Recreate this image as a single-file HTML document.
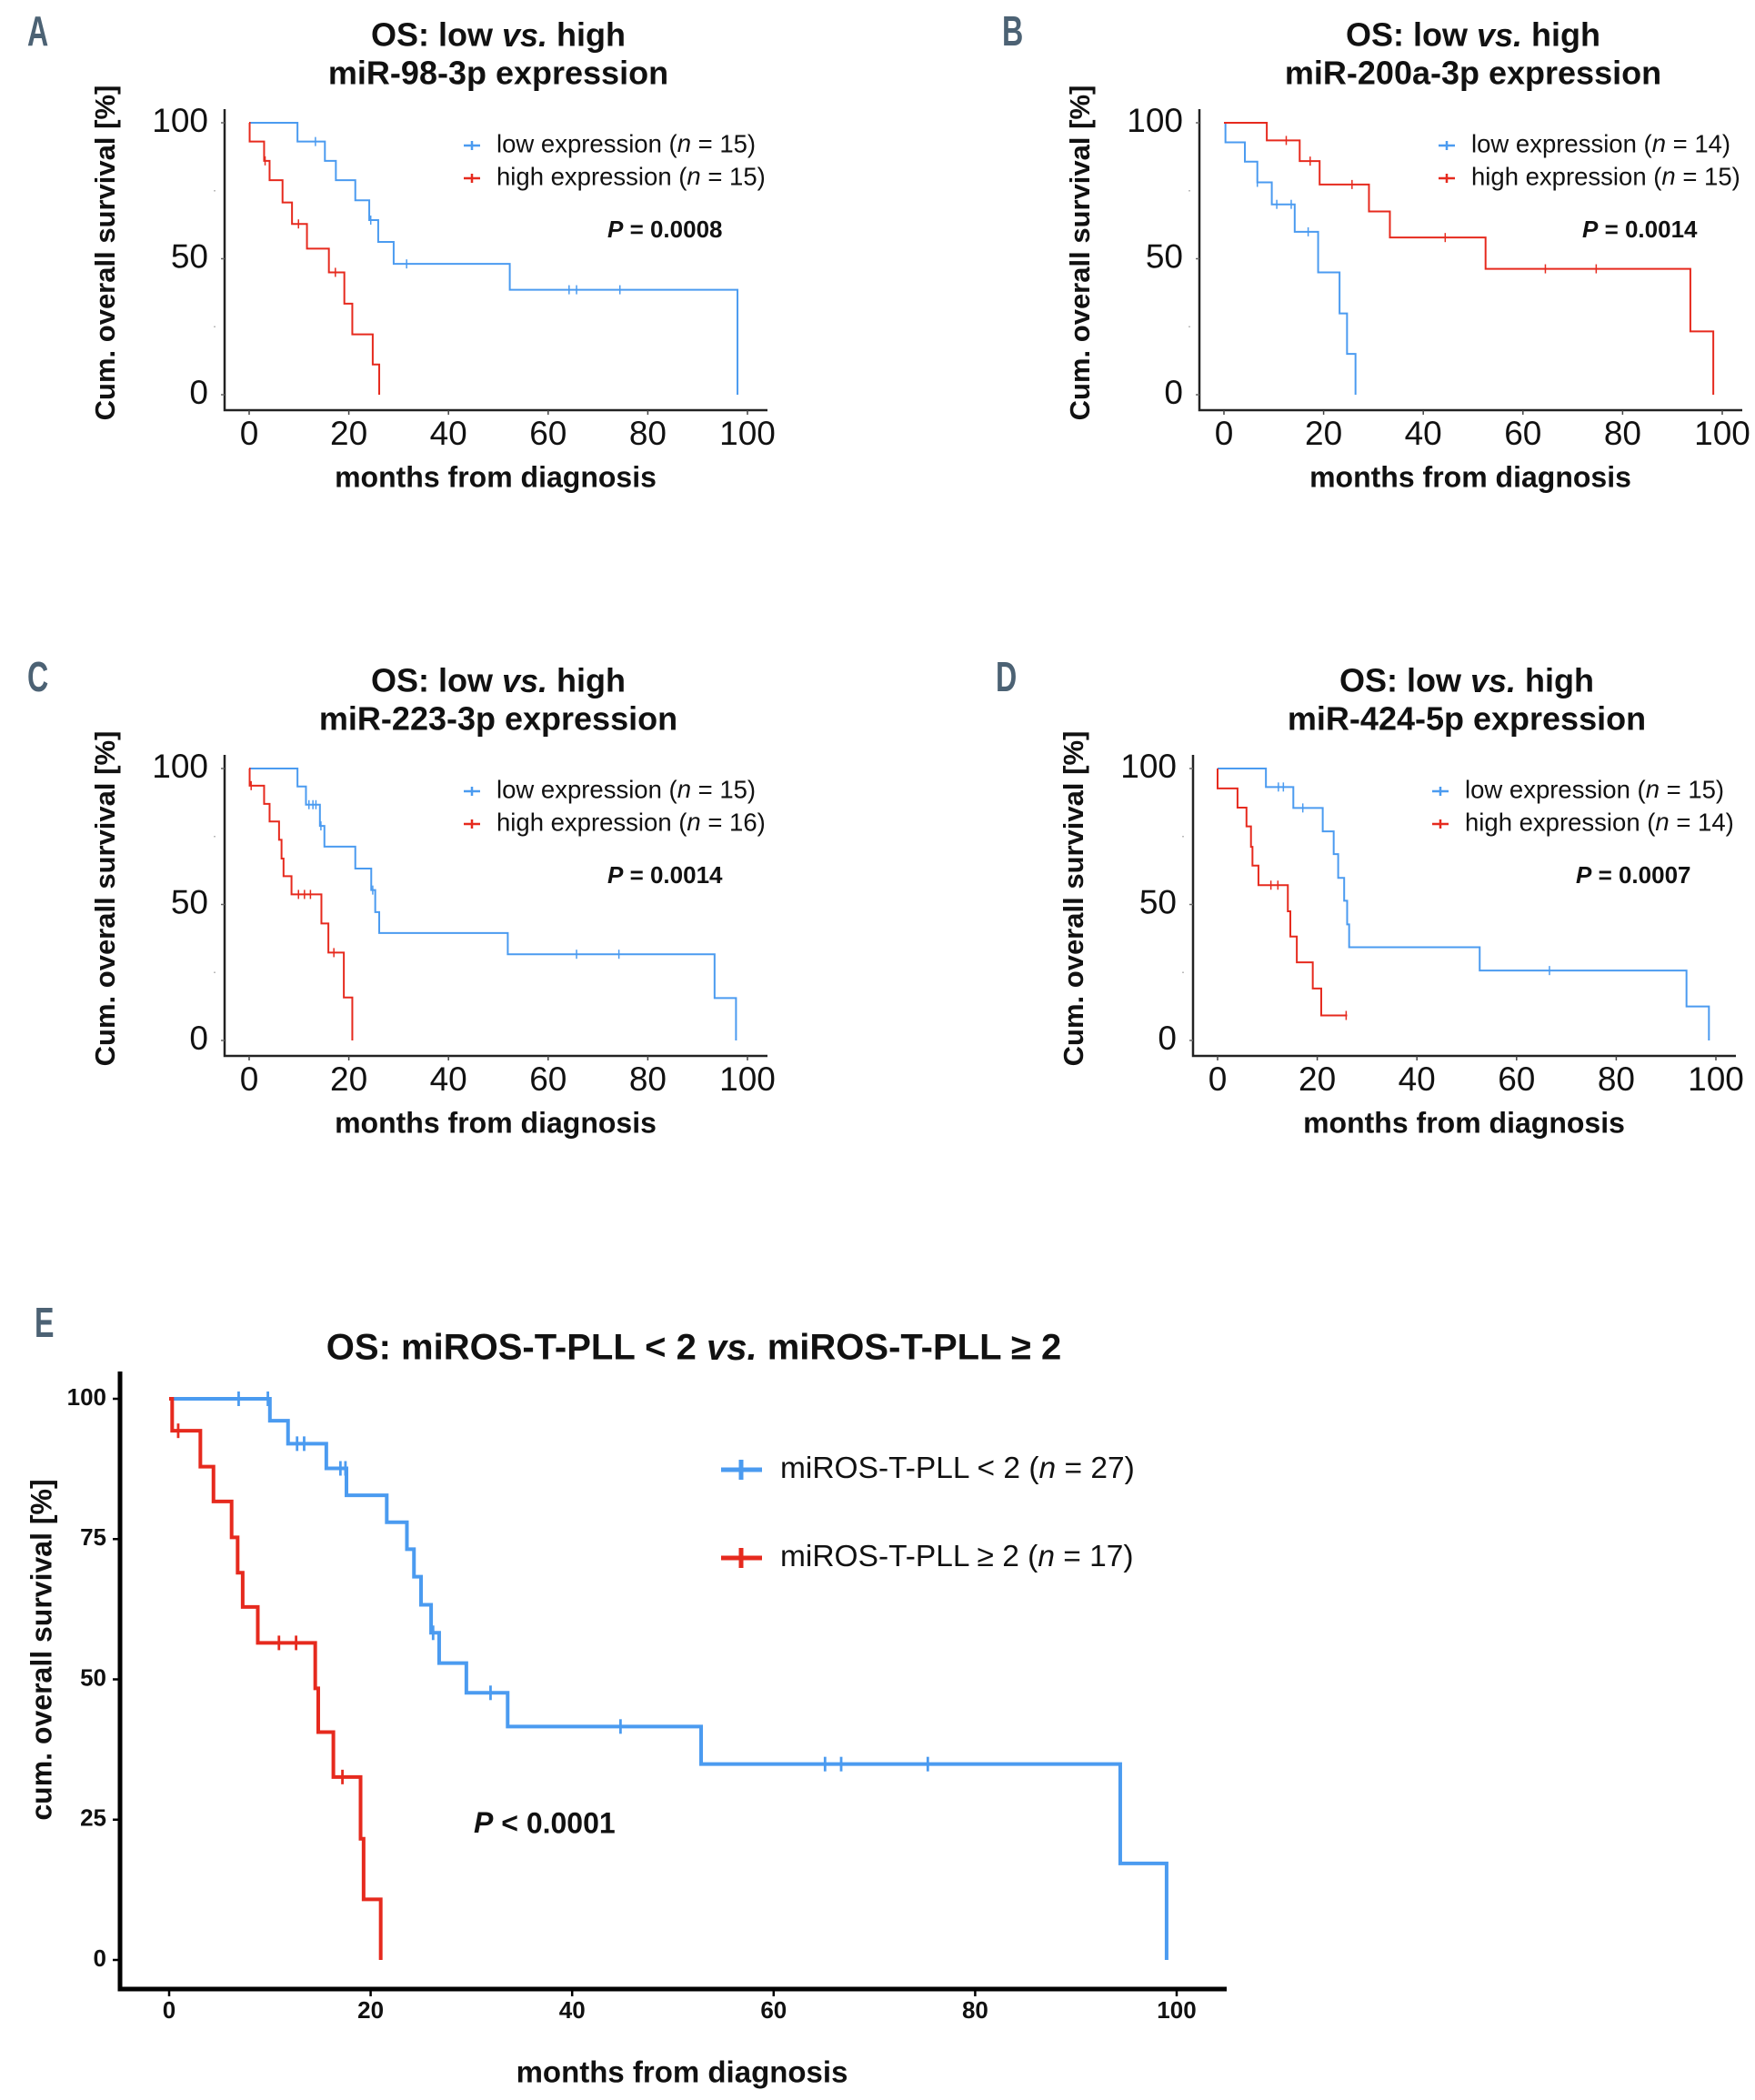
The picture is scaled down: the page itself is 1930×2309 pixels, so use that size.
<!DOCTYPE html>
<html><head><meta charset="utf-8">
<style>
html,body{margin:0;padding:0;background:#fff;}
svg{display:block;font-family:"Liberation Sans",Arial,sans-serif;}
</style></head>
<body>
<svg id="fig" width="1930" height="2309" viewBox="0 0 1930 2309" xmlns="http://www.w3.org/2000/svg"></svg>
<script>
// ---------------- DATA (months, survival %) ----------------
// Panel A: miR-98-3p
const aLowT = [0, 9.7, 15.2, 17.4, 21.3, 24.1, 25.9, 29, 52.3, 98];
const aLowS = [100, 93.1, 86, 78.9, 71.5, 64.2, 56.2, 48.1, 38.6, 0];
const aLowC = [13.3, 24.4, 31.6, 64.2, 65.7, 74.4];
const aHighT = [0, 0.1, 3, 4.1, 6.7, 8.6, 11.6, 16, 19.1, 20.7, 24.8, 26.1];
const aHighS = [100, 93.1, 86, 78.9, 70.7, 62.8, 53.7, 45, 33.5, 22.2, 11.1, 0];
const aHighC = [3.2, 9.9, 17.3];
// Panel B: miR-200a-3p
const bLowT = [0, 0.3, 4.2, 6.7, 9.6, 14.2, 18.9, 23.2, 24.7, 26.4];
const bLowS = [100, 92.8, 85.7, 78.1, 70, 59.9, 45, 29.9, 15, 0];
const bLowC = [6.7, 10.6, 13.5, 16.9];
const bHighT = [0, 8.6, 15.2, 19.2, 29.1, 33.3, 52.5, 93.6, 98.2];
const bHighS = [100, 93.5, 85.9, 77.3, 67.4, 57.8, 46.3, 23.3, 0];
const bHighC = [12.5, 17.3, 25.7, 44.4, 64.5, 74.7];
// Panel C: miR-223-3p
const cLowT = [0, 9.7, 11.4, 14.2, 15.1, 21.3, 24.5, 25.3, 26.1, 51.9, 93.4, 97.7];
const cLowS = [100, 93.4, 86.7, 78.9, 71.3, 63.2, 55.3, 47.2, 39.5, 31.7, 15.6, 0];
const cLowC = [12, 12.8, 13.4, 14.4, 24.8, 65.7, 74.2];
const cHighT = [0, 0.1, 3, 4.1, 6, 6.5, 6.9, 8.5, 14.5, 15.9, 19, 20.7];
const cHighS = [100, 93.7, 87, 80.5, 73.8, 66.9, 60.4, 53.7, 43, 32.3, 15.8, 0];
const cHighC = [0.4, 9.9, 11.1, 12.3, 17];
// Panel D: miR-424-5p
const dLowT = [0, 9.7, 15.2, 21.1, 23.3, 24.2, 25.4, 26, 26.4, 52.6, 94.1, 98.6];
const dLowS = [100, 93.2, 85.5, 76.9, 68.5, 59.8, 51.4, 42.7, 34.3, 25.7, 12.5, 0];
const dLowC = [12.2, 13.2, 17.1, 66.6];
const dHighT = [0, 0, 4, 5.8, 6.7, 7, 8.2, 14.1, 14.6, 15.9, 19.1, 20.8];
const dHighS = [100, 92.7, 85.6, 78.7, 71.2, 64.3, 57.1, 47.5, 38.2, 28.7, 19.1, 9.2];
const dHighEnd = 26;
const dHighC = [10.7, 12.1, 25.8];
// Panel E: miROS-T-PLL
const eLowT = [0, 10, 11.8, 15.6, 17.6, 21.6, 23.6, 24.3, 25, 26, 26.8, 29.5, 33.6, 52.8, 94.4, 99];
const eLowS = [100, 96.1, 92, 87.6, 82.8, 78, 73.2, 68.3, 63.3, 58.3, 52.9, 47.6, 41.6, 34.9, 17.2, 0];
const eLowC = [6.9, 9.8, 12.7, 13.4, 17, 17.5, 26.2, 31.9, 44.8, 65.1, 66.7, 75.3];
const eHighT = [0, 0.3, 3.1, 4.4, 6.2, 6.8, 7.3, 8.8, 14.5, 14.8, 16.3, 19, 19.3, 21];
const eHighS = [100, 94.3, 87.9, 81.7, 75.3, 69, 62.9, 56.5, 48.4, 40.6, 32.6, 21.6, 10.8, 0];
const eHighC = [0.9, 10.9, 12.6, 17.2];
// tick labels
const xTicks = [0, 20, 40, 60, 80, 100];
const yTicksSmall = [0, 50, 100];
const yMinorSmall = [25, 75];
const yTicksE = [0, 25, 50, 75, 100];

// ---------------- DRAWING ----------------
const NS = "http://www.w3.org/2000/svg";
const svg = document.getElementById('fig');
const BLUE = "#4b9bf0", RED = "#e62a1e";
function mk(tag, attrs, parent){
  const e = document.createElementNS(NS, tag);
  for (const k in attrs) e.setAttribute(k, attrs[k]);
  (parent||svg).appendChild(e);
  return e;
}
function txt(parent, x, y, str, size, opts){
  opts = opts||{};
  const t = mk('text', {x:x, y:y, 'font-size':size, 'font-weight':opts.bold?'bold':'normal',
    'text-anchor':opts.anchor||'start', 'dominant-baseline':'middle', fill:opts.fill||'#111'}, parent);
  if (opts.html) t.innerHTML = str; else t.textContent = str;
  if (opts.transform) t.setAttribute('transform', opts.transform);
  return t;
}
function survAt(T, S, t){
  let s = S[0];
  for (let i=0;i<T.length;i++){ if (T[i] <= t) s = S[i]; }
  return s;
}
function drawCurve(g, T, S, C, end, sx, sy, color, lw, cs, name){
  let d = "M" + sx(T[0]) + "," + sy(S[0]);
  for (let i=1;i<T.length;i++){
    d += " H" + sx(T[i]) + " V" + sy(S[i]);
  }
  if (end !== null) d += " H" + sx(end);
  const p = mk('path', {d:d, fill:'none', stroke:color, 'stroke-width':lw, 'stroke-linejoin':'miter'}, g);
  
  
  C.forEach(function(c){
    const y = sy(survAt(T, S, c)), x = sx(c);
    const m = mk('path', {d:"M"+x+","+(y-cs)+" V"+(y+cs), stroke:color, 'stroke-width':Math.max(1.5, lw*0.7)}, g);
    
    
  });
}

function smallPanel(cfg){
  const g = mk('g', {transform:'translate(' + cfg.dx + ',' + cfg.dy + ')'});
  
  
  const x0 = 274, x1 = 822, y100 = 135, y0 = 434;
  const sx = v => x0 + (x1 - x0) * v / 100;
  const sy = v => y0 - (y0 - y100) * v / 100;
  const L = txt(g, 30, 38, cfg.letter, 46, {bold:true, fill:'#4c6274'});
   
  L.setAttribute('transform', 'translate(30,38) scale(0.7,1) translate(-30,-38)');
  const t1 = txt(g, 548, 41, 'OS: low <tspan font-style="italic">vs.</tspan>  high', 36, {bold:true, anchor:'middle', html:true});
   
  const t2 = txt(g, 548, 83, cfg.mir + ' expression', 36, {bold:true, anchor:'middle'});
   
  const ax = mk('path', {d:'M247,120 V451 H844', fill:'none', stroke:'#222', 'stroke-width':2.5}, g);
   
  xTicks.forEach(function(v){
    const tk = mk('path', {d:'M'+sx(v)+',451 V456', stroke:'#444', 'stroke-width':1.5}, g);
     
    const l = txt(g, sx(v), 479, String(v), 37, {anchor:'middle'});
     
  });
  yTicksSmall.forEach(function(v){
    const tk = mk('path', {d:'M243,'+sy(v)+' H247', stroke:'#666', 'stroke-width':1.5}, g);
     
    const l = txt(g, 229, sy(v), String(v), 37, {anchor:'end'});
     
  });
  yMinorSmall.forEach(function(v){
    const tk = mk('path', {d:'M235,'+sy(v)+' H237', stroke:'#bbb', 'stroke-width':1.5}, g);
     
  });
  const xl = txt(g, 545, 527, 'months from diagnosis', 32, {bold:true, anchor:'middle'});
   
  const yl = txt(g, 0, 0, 'Cum. overall survival [%]', 31, {bold:true, anchor:'middle', transform:'translate(118,278) rotate(-90)'});
   
  [[BLUE, 'low expression (<tspan font-style="italic">n</tspan> = ' + cfg.nLow + ')', 160, 'legend-entry-low'],
   [RED, 'high expression (<tspan font-style="italic">n</tspan> = ' + cfg.nHigh + ')', 196, 'legend-entry-high']].forEach(function(e){
    const lg = mk('g', {}, g);
     
    mk('path', {d:'M510,'+e[2]+' H528 M519,'+(e[2]-5)+' V'+(e[2]+5), stroke:e[0], 'stroke-width':2.5}, lg);
    txt(lg, 546, e[2], e[1], 27.5, {html:true});
  });
  const p = txt(g, 668, 254, '<tspan font-style="italic">P</tspan> = ' + cfg.p, 26, {bold:true, html:true});
   
  drawCurve(g, cfg.lowT, cfg.lowS, cfg.lowC, null, sx, sy, BLUE, 2, 5, 'low-expression');
  drawCurve(g, cfg.highT, cfg.highS, cfg.highC, cfg.highEnd, sx, sy, RED, 2, 5, 'high-expression');
}

smallPanel({name:'panel-a', dx:0, dy:0, letter:'A', mir:'miR-98-3p', nLow:15, nHigh:15, p:'0.0008',
  lowT:aLowT, lowS:aLowS, lowC:aLowC, highT:aHighT, highS:aHighS, highC:aHighC, highEnd:null});
smallPanel({name:'panel-b', dx:1072, dy:0, letter:'B', mir:'miR-200a-3p', nLow:14, nHigh:15, p:'0.0014',
  lowT:bLowT, lowS:bLowS, lowC:bLowC, highT:bHighT, highS:bHighS, highC:bHighC, highEnd:null});
smallPanel({name:'panel-c', dx:0, dy:710, letter:'C', mir:'miR-223-3p', nLow:15, nHigh:16, p:'0.0014',
  lowT:cLowT, lowS:cLowS, lowC:cLowC, highT:cHighT, highS:cHighS, highC:cHighC, highEnd:null});
smallPanel({name:'panel-d', dx:1065, dy:710, letter:'D', mir:'miR-424-5p', nLow:15, nHigh:14, p:'0.0007',
  lowT:dLowT, lowS:dLowS, lowC:dLowC, highT:dHighT, highS:dHighS, highC:dHighC, highEnd:dHighEnd});

// Panel E
(function(){
  const g = mk('g', {});
  
  
  const x0 = 186, x1 = 1294, y100 = 1538, y0 = 2155;
  const sx = v => x0 + (x1 - x0) * v / 100;
  const sy = v => y0 - (y0 - y100) * v / 100;
  const L = txt(g, 38, 1458, 'E', 46, {bold:true, fill:'#4c6274'});
   
  L.setAttribute('transform', 'translate(38,1458) scale(0.7,1) translate(-38,-1458)');
  const t = txt(g, 763, 1484, 'OS: miROS-T-PLL &lt; 2 <tspan font-style="italic">vs.</tspan> miROS-T-PLL ≥ 2', 40, {bold:true, anchor:'middle', html:true});
   
  const ax = mk('path', {d:'M132,1508 V2187 H1349', fill:'none', stroke:'#000', 'stroke-width':5}, g);
   
  xTicks.forEach(function(v){
    const tk = mk('path', {d:'M'+sx(v)+',2189 V2195', stroke:'#000', 'stroke-width':2.5}, g);
     
    const l = txt(g, sx(v), 2212, String(v), 26, {bold:true, anchor:'middle'});
     
  });
  yTicksE.forEach(function(v){
    const tk = mk('path', {d:'M124,'+sy(v)+' H130', stroke:'#000', 'stroke-width':2.5}, g);
     
    const l = txt(g, 117, sy(v), String(v), 26, {bold:true, anchor:'end'});
     
  });
  const xl = txt(g, 750, 2281, 'months from diagnosis', 33, {bold:true, anchor:'middle'});
   
  const yl = txt(g, 0, 0, 'cum. overall survival [%]', 32, {bold:true, anchor:'middle', transform:'translate(48,1814) rotate(-90)'});
   
  [[BLUE, 'miROS-T-PLL &lt; 2 (<tspan font-style="italic">n</tspan> = 27)', 1616, 'legend-entry-low'],
   [RED, 'miROS-T-PLL ≥ 2 (<tspan font-style="italic">n</tspan> = 17)', 1713, 'legend-entry-high']].forEach(function(e){
    const lg = mk('g', {}, g);
     
    mk('path', {d:'M793,'+e[2]+' H838 M815,'+(e[2]-11)+' V'+(e[2]+11), stroke:e[0], 'stroke-width':5}, lg);
    txt(lg, 858, e[2], e[1], 33.5, {html:true});
  });
  const p = txt(g, 521, 2007, '<tspan font-style="italic">P</tspan> &lt; 0.0001', 32, {bold:true, html:true});
   
  drawCurve(g, eLowT, eLowS, eLowC, null, sx, sy, BLUE, 4, 8, 'miros-low');
  drawCurve(g, eHighT, eHighS, eHighC, null, sx, sy, RED, 4, 8, 'miros-high');
})();
</script>
</body></html>
